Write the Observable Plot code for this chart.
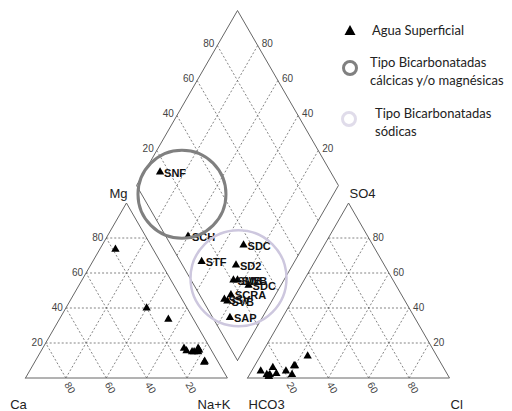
<!DOCTYPE html>
<html><head><meta charset="utf-8">
<script src="https://cdn.jsdelivr.net/npm/d3@7"></script>
<script src="https://cdn.jsdelivr.net/npm/@observablehq/plot@0.6"></script>
<style>
body{margin:0;background:#fff;}
#wrap{position:relative;width:512px;height:411px;overflow:hidden;}
.lg{position:absolute;font-family:Lato,"Open Sans",sans-serif;font-size:13px;line-height:18px;color:#222;white-space:nowrap;}
.sym{position:absolute;}
</style></head><body><div id="wrap"></div>
<script>
// Samples (percent meq)
const names = ["SNF","SCH","STF","SDC","SD2","SMB","SWB","SDC","SCRA","SSV","SVB","SAP"];
const Ca   = [18.7, 20, 12.5, 13, 12.5, 10, 6, 7, 7, 9, 6, 6.5];
const Mg   = [73.5, 40, 33.5, 17, 15.5, 15, 17, 9, 15, 15, 16, 9.5];
const NaK  = [7.8, 40, 54, 70, 72, 75, 77, 84, 78, 76, 78, 84];
const HCO3 = [84.5, 89, 89.5, 64, 73.5, 79, 77, 73, 84.5, 89, 88, 91.5];
const SO4  = [6, 1, 2, 12.5, 7, 4, 2, 7, 2.5, 1, 2, 4];
const Cl   = [9.5, 10, 8.5, 23.5, 19.5, 17, 21, 20, 13, 10, 10, 4.5];
const tickValues = [20, 40, 60, 80];
// Classification zones (centre in diamond terms: Na+K %, SO4+Cl %)
const zoneNames = ["Tipo Bicarbonatadas cálcicas y/o magnésicas", "Tipo Bicarbonatadas sódicas"];
const zoneNa = [25, 77];
const zoneAn = [20, 24];
const axisNames = ["Ca", "Na+K", "Mg", "HCO3", "Cl", "SO4"];

const S3 = Math.sqrt(3) / 2;
const GAP = 10;
const cat = (ca, mg, na) => [na + mg / 2, mg * S3];
const an = (h, so4, cl) => [100 + GAP + cl + so4 / 2, so4 * S3];
const dia = (na, v) => [50 + GAP / 2 + na / 2 + v / 2, S3 * GAP + S3 * (100 - na) + S3 * v];

const pts = [], dpts = [];
names.forEach((n, i) => {
  const c = cat(Ca[i], Mg[i], NaK[i]);
  const a = an(HCO3[i], SO4[i], Cl[i]);
  const d = dia(NaK[i], SO4[i] + Cl[i]);
  pts.push({x: c[0], y: c[1]}, {x: a[0], y: a[1]});
  dpts.push({x: d[0], y: d[1], name: n});
});
pts.push(...dpts);

// grid lines
const grid = [];
const seg = (p, q) => grid.push({x1: p[0], y1: p[1], x2: q[0], y2: q[1]});
tickValues.forEach(k => {
  seg(cat(100 - k, k, 0), cat(0, k, 100 - k));
  seg(cat(100 - k, 0, k), cat(0, 100 - k, k));
  seg(cat(k, 0, 100 - k), cat(k, 100 - k, 0));
  seg(an(100 - k, k, 0), an(0, k, 100 - k));
  seg(an(100 - k, 0, k), an(0, 100 - k, k));
  seg(an(k, 0, 100 - k), an(k, 100 - k, 0));
  seg(dia(k, 0), dia(k, 100));
  seg(dia(0, k), dia(100, k));
});
const outline = [];
const poly = (arr, id) => arr.concat([arr[0]]).forEach(p => outline.push({x: p[0], y: p[1], id}));
poly([cat(100, 0, 0), cat(0, 0, 100), cat(0, 100, 0)], "c");
poly([an(100, 0, 0), an(0, 0, 100), an(0, 100, 0)], "a");
poly([dia(100, 0), dia(100, 100), dia(0, 100), dia(0, 0)], "d");

// tick labels
const tl = (p, k) => ({x: p[0], y: p[1], t: String(k)});
const tMg = tickValues.map(k => tl(cat(100 - k, k, 0), k));
const tCa = tickValues.map(k => tl(cat(k, 0, 100 - k), k));
const tSO4 = tickValues.map(k => tl(an(0, k, 100 - k), k));
const tCl = tickValues.map(k => tl(an(100 - k, 0, k), k));
const tDL = tickValues.map(k => tl(dia(0, k), k));
const tDR = tickValues.map(k => tl(dia(100 - k, 100), k));

const corners = [cat(100,0,0), cat(0,0,100), cat(0,100,0), an(100,0,0), an(0,0,100), an(0,100,0)]
  .map((p, i) => ({x: p[0], y: p[1], t: axisNames[i]}));

const zones = zoneNames.map((n, i) => {
  const p = dia(zoneNa[i], zoneAn[i]);
  return {x: p[0], y: p[1], name: n};
});

const chart = Plot.plot({
  width: 512, height: 411,
  marginLeft: 25, marginRight: 63, marginTop: 10, marginBottom: 33.5,
  x: {domain: [0, 210], axis: null},
  y: {domain: [0, 210 * S3], axis: null},
  style: {background: "#fff", fontFamily: "Liberation Sans, Arial, sans-serif"},
  marks: [
    Plot.link(grid, {x1: "x1", y1: "y1", x2: "x2", y2: "y2", stroke: "#666", strokeWidth: 0.8, strokeDasharray: "2,2"}),
    Plot.line(outline, {x: "x", y: "y", z: "id", stroke: "#666", strokeWidth: 1}),
    Plot.text(tMg, {x: "x", y: "y", text: "t", textAnchor: "end", dx: -3, fontSize: 10, fill: "#444"}),
    Plot.text(tSO4, {x: "x", y: "y", text: "t", textAnchor: "start", dx: 4, fontSize: 10, fill: "#444"}),
    Plot.text(tDL, {x: "x", y: "y", text: "t", textAnchor: "end", dx: -3, dy: -2, fontSize: 10, fill: "#444"}),
    Plot.text(tDR, {x: "x", y: "y", text: "t", textAnchor: "start", dx: 4, dy: -2, fontSize: 10, fill: "#444"}),
    Plot.text(tCa, {x: "x", y: "y", text: "t", textAnchor: "start", rotate: 60, dx: 1, dy: 5, fontSize: 10, fill: "#444"}),
    Plot.text(tCl, {x: "x", y: "y", text: "t", textAnchor: "start", rotate: 60, dx: 1, dy: 5, fontSize: 10, fill: "#444"}),
    Plot.text([corners[0]], {x: "x", y: "y", text: "t", textAnchor: "middle", dx: -7, dy: 27, fontSize: 13, fill: "#222"}),
    Plot.text([corners[1]], {x: "x", y: "y", text: "t", textAnchor: "end", dx: 3, dy: 27, fontSize: 13, fill: "#222"}),
    Plot.text([corners[2]], {x: "x", y: "y", text: "t", textAnchor: "end", dx: 1, dy: -9, fontSize: 13, fill: "#222"}),
    Plot.text([corners[3]], {x: "x", y: "y", text: "t", textAnchor: "start", dx: 1, dy: 27, fontSize: 13, fill: "#222"}),
    Plot.text([corners[4]], {x: "x", y: "y", text: "t", textAnchor: "start", dx: 1, dy: 27, fontSize: 13, fill: "#222"}),
    Plot.text([corners[5]], {x: "x", y: "y", text: "t", textAnchor: "start", dx: 1, dy: -9, fontSize: 13, fill: "#222"}),
    Plot.dot(pts, {x: "x", y: "y", symbol: "triangle", r: 3.1, fill: "#000", stroke: "none"}),
    Plot.text(dpts, {x: "x", y: "y", text: "name", textAnchor: "start", dx: 4, dy: 1, fontSize: 11, fontWeight: "bold", fill: "#111"}),
    Plot.dot([zones[0]], {x: "x", y: "y", r: 44, stroke: "#808080", strokeWidth: 3, fill: "none"}),
    Plot.dot([zones[1]], {x: "x", y: "y", r: 48, stroke: "#cdc7de", strokeWidth: 2.5, fill: "none"})
  ]
});
const wrap = document.getElementById("wrap");
wrap.appendChild(chart);

// legend overlay
const legendItems = [
  {sym: "tri", lines: ["Agua Superficial"], sx: 350, sy: 31, tx: 372, ty: 21},
  {sym: "gray", lines: ["Tipo Bicarbonatadas", "cálcicas y/o magnésicas"], sx: 350, sy: 68, tx: 370, ty: 53},
  {sym: "light", lines: ["Tipo Bicarbonatadas", "sódicas"], sx: 349, sy: 119, tx: 375, ty: 104}
];
legendItems.forEach(it => {
  const ns = "http://www.w3.org/2000/svg";
  const s = document.createElementNS(ns, "svg");
  s.setAttribute("width", 20); s.setAttribute("height", 20);
  s.setAttribute("class", "sym");
  s.style.left = (it.sx - 10) + "px"; s.style.top = (it.sy - 10) + "px";
  let el;
  if (it.sym === "tri") {
    el = document.createElementNS(ns, "polygon");
    el.setAttribute("points", "10,4 15.5,14 4.5,14");
    el.setAttribute("fill", "#000");
  } else {
    el = document.createElementNS(ns, "circle");
    el.setAttribute("cx", 10); el.setAttribute("cy", 10); el.setAttribute("r", 6.5);
    el.setAttribute("fill", "none");
    el.setAttribute("stroke", it.sym === "gray" ? "#808080" : "#e0dcea");
    el.setAttribute("stroke-width", 3);
  }
  s.appendChild(el);
  wrap.appendChild(s);
  const d = document.createElement("div");
  d.className = "lg";
  d.style.left = it.tx + "px"; d.style.top = it.ty + "px";
  d.innerHTML = it.lines.join("<br>");
  wrap.appendChild(d);
});
</script></body></html>
